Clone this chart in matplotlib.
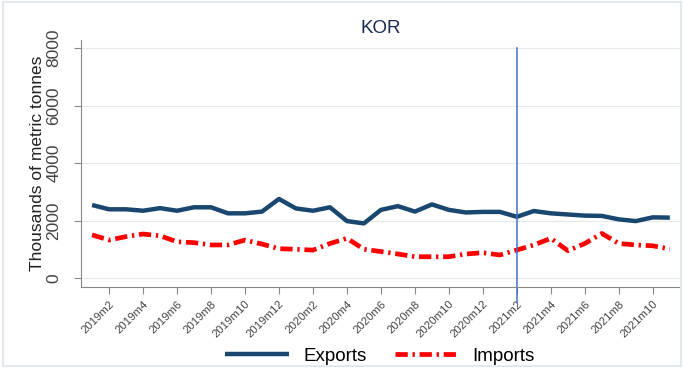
import matplotlib
matplotlib.use("Agg")
import matplotlib.pyplot as plt
from matplotlib.patches import Rectangle
import numpy as np

plt.rcParams['font.family'] = ['Liberation Sans', 'DejaVu Sans']

months = [f"{y}m{m}" for y in (2019, 2020, 2021) for m in range(1, 13)][:35]
exports = [2540, 2390, 2390, 2340, 2430, 2340, 2460, 2460, 2250, 2250, 2310, 2750,
           2420, 2340, 2460, 1980, 1900, 2370, 2500, 2310, 2560, 2370, 2280, 2300,
           2300, 2130, 2330, 2250, 2210, 2170, 2160, 2040, 1980, 2110, 2100]
imports = [1500, 1320, 1440, 1530, 1470, 1260, 1230, 1150, 1150, 1320, 1180, 1020,
           1000, 970, 1200, 1380, 1000, 920, 835, 740, 740, 740, 835, 880,
           800, 975, 1150, 1380, 950, 1200, 1550, 1200, 1150, 1120, 1010]
yticks = [0, 2000, 4000, 6000, 8000]
event_month = "2021m2"
title = "KOR"
ylabel = "Thousands of metric tonnes"

fig = plt.figure(figsize=(6.84, 3.68), dpi=100)
fig.patches.append(Rectangle((0.004, 0.006), 0.992, 0.988, transform=fig.transFigure,
                             fill=False, edgecolor="#e3e8ee", lw=1.5))
ax = fig.add_axes([81/684, 1-287/368, (680-81)/684, (287-40)/368])
x = np.arange(len(months))
ax.plot(x, exports, color="#1a476f", lw=3.2, label="Exports", solid_capstyle="butt")
ax.plot(x, imports, color="#ff0000", lw=3.4, linestyle=(0, (2.6, 1.0, 0.5, 1.0)), label="Imports")

ev = months.index(event_month)
ax.plot([ev, ev], [8000, -850], color="#4472c4", lw=1.1, clip_on=False)

ax.set_xlim(-0.65, 34.6)
ax.set_ylim(-313, 8280)
ax.set_yticks(yticks)
ax.set_yticklabels([str(v) for v in yticks], rotation=90, va="center", fontsize=12.5, color="#333333")
for v in yticks:
    ax.axhline(v, color="#e8e8e8", lw=0.8, zorder=0)
tick_idx = list(range(1, len(months), 2))
ax.set_xticks(tick_idx)
ax.set_xticklabels([months[i] for i in tick_idx], rotation=45, ha="right", rotation_mode="anchor",
                   fontsize=8.2, color="#444444")
for s in ("top", "right"):
    ax.spines[s].set_visible(False)
for s in ("left", "bottom"):
    ax.spines[s].set_color("#888888")
ax.tick_params(axis="both", colors="#888888", length=5, labelcolor="#444444")
ax.tick_params(axis="y", pad=9)
ax.set_ylabel(ylabel, fontsize=12.5, color="#222222", labelpad=1)
ax.set_title(title, fontsize=13.5, color="#1a2a50", pad=5, y=1.0)

fig.legend(loc="center", bbox_to_anchor=(380/684, 1-356/368), ncol=2, frameon=False,
           fontsize=13.5, handlelength=3.4, columnspacing=1.5, handletextpad=0.75)
fig.savefig("out.png", dpi=100, facecolor="white")
